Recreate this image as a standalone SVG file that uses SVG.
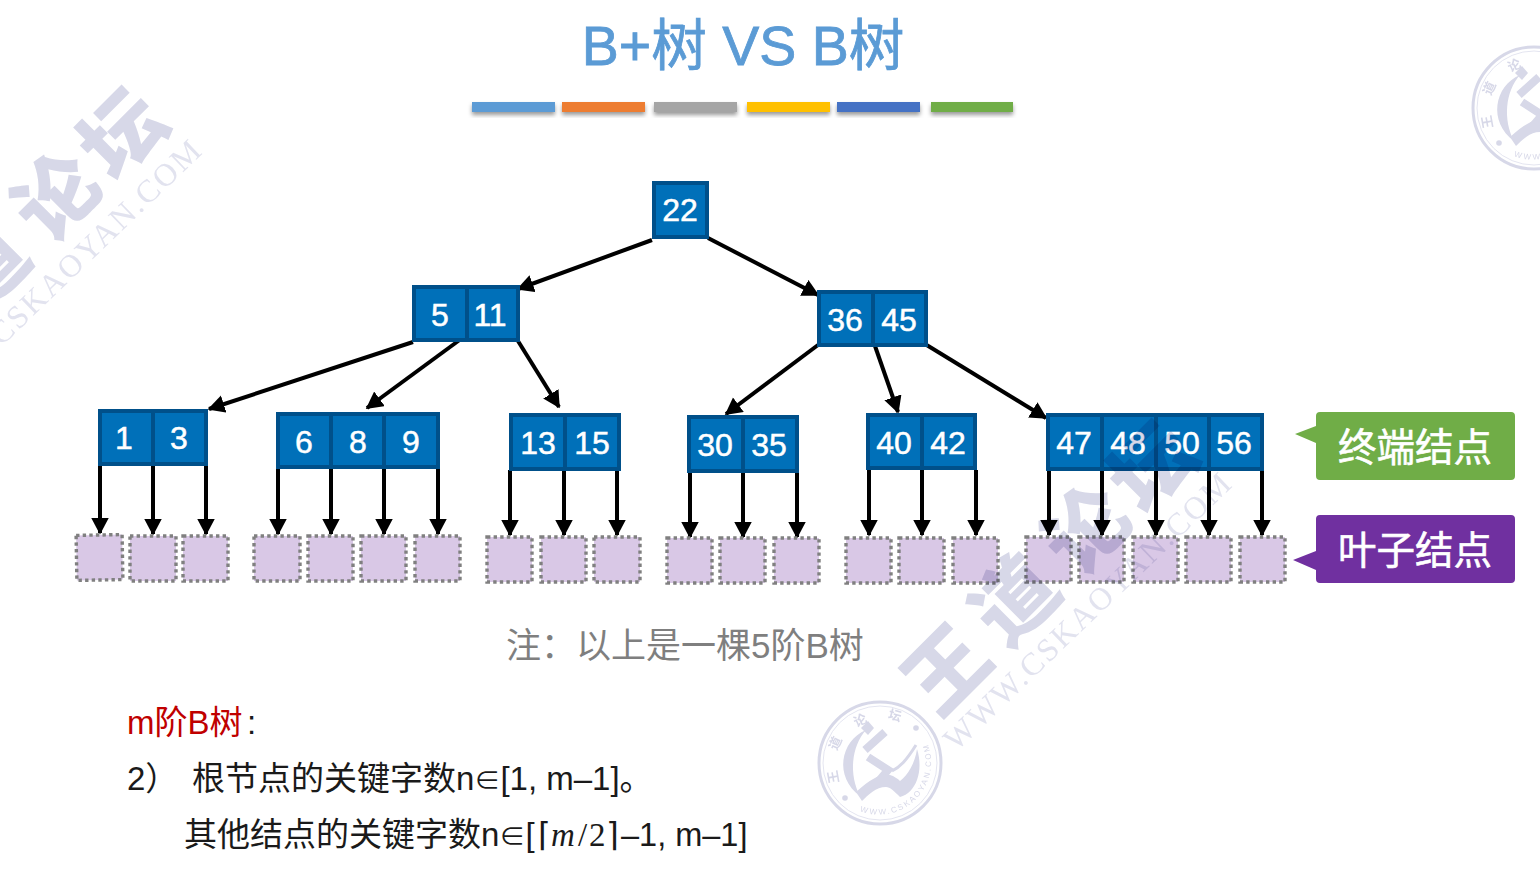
<svg xmlns="http://www.w3.org/2000/svg" xmlns:xlink="http://www.w3.org/1999/xlink" width="1540" height="880" viewBox="0 0 1540 880">
<style>
text{font-family:"Liberation Sans","Noto Sans CJK SC",sans-serif}
.k rect{fill:#0070b9;stroke:#00508a;stroke-width:4}
.k text{fill:#fff;font-size:32px;text-anchor:middle;stroke:#fff;stroke-width:.5}
.leaf rect{fill:#d9c8e6;stroke:#808080;stroke-width:3.4;stroke-dasharray:3.4 3.2}
.conn line{stroke:#000;stroke-width:4;marker-end:url(#ah)}
.body{font-size:33px;fill:#1a1a1a}
.tag{font-size:38.5px;fill:#fff;text-anchor:middle;font-family:"Noto Sans CJK SC",sans-serif;stroke:#fff;stroke-width:.6}
.wm{fill:#d7d8e8;mix-blend-mode:multiply}
.wmt{font-size:82px;font-weight:900;text-anchor:middle;font-family:"Noto Sans CJK SC",sans-serif}
.wmu{font-size:32px;font-family:"Liberation Serif",serif;letter-spacing:2.2px;fill:#e2e3ef}
.sl{font-size:13px;font-weight:700;text-anchor:middle;font-family:"Noto Sans CJK SC",sans-serif}
.m{font-family:"Liberation Serif",serif}
.b{font-family:"DejaVu Sans",sans-serif;font-weight:200}
</style>
<defs>
<marker id="ah" markerUnits="userSpaceOnUse" markerWidth="19" markerHeight="19" refX="15.500" refY="9" orient="auto"><path d="M0 0L17 9L0 18Z" fill="#000"/></marker>
<filter id="sh" x="-5%" y="-30%" width="110%" height="190%"><feDropShadow dx="0" dy="3" stdDeviation="2" flood-color="#000" flood-opacity=".4"/></filter>
<g id="seal">
<circle r="61" fill="none" stroke="#d7d8e8" stroke-width="3"/>
<circle r="57" fill="none" stroke="#e4e5f0" stroke-width="1"/>
<path d="M-14-33C-40-22-46 14-20 33C-31 12-29-16-14-33Z" fill="#d7d8e8"/>
<path d="M-12-42L-6-35L-12-28L-19-35Z" fill="#d7d8e8"/>
<path d="M-15-13L5-31M-12-6L8 7L-3 20" fill="none" stroke="#d7d8e8" stroke-width="8"/>
<path d="M12 8C20 4 26-2 36-18" fill="none" stroke="#d7d8e8" stroke-width="3"/>
<path d="M-24 29C-8 15 2 10 10 12C14 13 18 16 20 18C28 12 35 0 37-14C44 8 36 30 20 34C14 28 10 24 6 24C-4 24-12 32-18 38Z" fill="#d7d8e8"/>
<circle cx="36" cy="-35" r="2.800" fill="#d7d8e8"/><circle cx="-35" cy="35" r="2.800" fill="#d7d8e8"/>
<g fill="#d7d8e8">
<text class="sl" transform="translate(-47,14) rotate(-100) translate(0,5)">王</text>
<text class="sl" transform="translate(-45,-20) rotate(-65) translate(0,5)">道</text>
<text class="sl" transform="translate(-20,-43) rotate(-25) translate(0,5)">论</text>
<text class="sl" transform="translate(15,-48) rotate(15) translate(0,5)">坛</text>
</g>
<path id="sa" d="M-20 48A52 52 0 0 0 48-18" fill="none"/>
<text font-size="8" fill="#d7d8e8" font-family="Liberation Serif,serif" letter-spacing="2"><textPath xlink:href="#sa" href="#sa">WWW.CSKAOYAN.COM</textPath></text>
</g>
</defs>
<rect width="1540" height="880" fill="#fff"/>
<text id="title" x="743" y="65" font-size="55.500" fill="#5b9bd5" stroke="#5b9bd5" stroke-width=".8" text-anchor="middle">B+树 VS B树</text>
<g id="bars" filter="url(#sh)">
<rect x="472" y="102" width="83" height="10" fill="#5b9bd5"/>
<rect x="562" y="102" width="83" height="10" fill="#ed7d31"/>
<rect x="654" y="102" width="83" height="10" fill="#a5a5a5"/>
<rect x="747" y="102" width="83" height="10" fill="#ffc000"/>
<rect x="837" y="102" width="83" height="10" fill="#4472c4"/>
<rect x="931" y="102" width="82" height="10" fill="#70ad47"/>
</g>
<g id="connectors" class="conn">
<line x1="652" y1="240" x2="518" y2="289"/>
<line x1="708" y1="238" x2="818" y2="295"/>
<line x1="413" y1="342" x2="209" y2="409"/>
<line x1="465" y1="336" x2="367" y2="408"/>
<line x1="518" y1="341" x2="559" y2="407"/>
<line x1="818" y1="345" x2="726" y2="414"/>
<line x1="875" y1="346" x2="898" y2="412"/>
<line x1="925" y1="344" x2="1046" y2="418"/>
<line x1="100" y1="466" x2="100" y2="533"/><line x1="153" y1="466" x2="153" y2="534"/><line x1="206" y1="466" x2="206" y2="534"/>
<line x1="278" y1="468" x2="278" y2="534"/><line x1="331" y1="468" x2="331" y2="534"/><line x1="384" y1="468" x2="384" y2="534"/><line x1="438" y1="468" x2="438" y2="534"/>
<line x1="510" y1="470" x2="510" y2="535"/><line x1="564" y1="470" x2="564" y2="535"/><line x1="617" y1="470" x2="617" y2="535"/>
<line x1="690" y1="472" x2="690" y2="537"/><line x1="743" y1="472" x2="743" y2="537"/><line x1="797" y1="472" x2="797" y2="537"/>
<line x1="869" y1="470" x2="869" y2="535"/><line x1="922" y1="470" x2="922" y2="535"/><line x1="976" y1="470" x2="976" y2="535"/>
<line x1="1049" y1="470" x2="1049" y2="535"/><line x1="1102" y1="470" x2="1102" y2="535"/><line x1="1156" y1="470" x2="1156" y2="535"/><line x1="1209" y1="470" x2="1209" y2="535"/><line x1="1262" y1="470" x2="1262" y2="535"/>
</g>
<g id="n22" class="k"><rect x="654" y="183" width="53" height="54"/><text x="680" y="221">22</text></g>
<g id="n5-11" class="k"><rect x="414" y="287" width="53" height="53"/><rect x="467" y="287" width="51" height="53"/><text x="440" y="326">5</text><text x="490" y="326">11</text></g>
<g id="n36-45" class="k"><rect x="819" y="292" width="54" height="53"/><rect x="873" y="292" width="53" height="53"/><text x="845" y="331">36</text><text x="899" y="331">45</text></g>
<g id="n1-3" class="k"><rect x="100" y="411" width="53" height="53"/><rect x="153" y="411" width="53" height="53"/><text x="124" y="449">1</text><text x="179" y="449">3</text></g>
<g id="n6-8-9" class="k"><rect x="278" y="414" width="53" height="53"/><rect x="331" y="414" width="53" height="53"/><rect x="384" y="414" width="54" height="53"/><text x="304" y="453">6</text><text x="358" y="453">8</text><text x="411" y="453">9</text></g>
<g id="n13-15" class="k"><rect x="511" y="415" width="54" height="54"/><rect x="565" y="415" width="54" height="54"/><text x="538" y="454">13</text><text x="592" y="454">15</text></g>
<g id="n30-35" class="k"><rect x="689" y="417" width="54" height="54"/><rect x="743" y="417" width="54" height="54"/><text x="715" y="456">30</text><text x="769" y="456">35</text></g>
<g id="n40-42" class="k"><rect x="868" y="415" width="54" height="53"/><rect x="922" y="415" width="53" height="53"/><text x="894" y="454">40</text><text x="948" y="454">42</text></g>
<g id="n47-56" class="k"><rect x="1048" y="415" width="54" height="54"/><rect x="1102" y="415" width="54" height="54"/><rect x="1156" y="415" width="53" height="54"/><rect x="1209" y="415" width="53" height="54"/><text x="1074" y="454">47</text><text x="1128" y="454">48</text><text x="1182" y="454">50</text><text x="1234" y="454">56</text></g>
<g id="leaves" class="leaf">
<rect x="76.500" y="535" width="46" height="45" transform="rotate(-1 99 558)"/>
<rect x="130" y="536" width="46" height="45"/><rect x="183" y="536" width="45" height="45"/>
<rect x="254" y="536" width="46" height="45"/><rect x="308" y="536" width="45" height="45"/><rect x="361" y="536" width="45" height="45"/><rect x="415" y="536" width="45" height="45"/>
<rect x="487" y="537" width="45" height="45"/><rect x="541" y="537" width="45" height="45"/><rect x="594" y="537" width="46" height="45"/>
<rect x="667" y="538" width="45" height="45"/><rect x="720" y="538" width="45" height="45"/><rect x="774" y="538" width="45" height="45"/>
<rect x="846" y="538" width="45" height="45"/><rect x="899" y="538" width="45" height="45"/><rect x="953" y="538" width="45" height="45"/>
<rect x="1026" y="537" width="45" height="45"/><rect x="1079" y="537" width="45" height="45"/><rect x="1133" y="537" width="45" height="45"/><rect x="1186" y="537" width="45" height="45"/><rect x="1240" y="537" width="45" height="45"/>
</g>
<g id="tag-terminal"><path d="M1320 412H1511a4 4 0 0 1 4 4V476a4 4 0 0 1-4 4H1320a4 4 0 0 1-4-4V443L1295 434L1316 426V416a4 4 0 0 1 4-4Z" fill="#70ad47"/><text class="tag" x="1415" y="461">终端结点</text></g>
<g id="tag-leaf"><path d="M1320 515H1511a4 4 0 0 1 4 4V579a4 4 0 0 1-4 4H1320a4 4 0 0 1-4-4V570L1293 560L1316 551V519a4 4 0 0 1 4-4Z" fill="#7030a0"/><text class="tag" x="1415" y="564">叶子结点</text></g>
<text id="note" x="506" y="658" font-size="35" fill="#7f7f7f">注：以上是一棵5阶B树</text>
<text id="l1" class="body" x="127" y="734"><tspan fill="#c00000">m阶B树</tspan><tspan x="247">:</tspan></text>
<text id="l2" class="body" x="127" y="790" font-size="32.600">2）<tspan x="192">根节点的关键字数n<tspan font-size="26">∈</tspan>[1, m–1]。</tspan></text>
<text id="l3" class="body" x="184" y="846">其他结点的关键字数n<tspan font-size="26">∈</tspan>[<tspan x="538" class="b" font-size="33">⌈</tspan><tspan x="551" class="m" font-style="italic">m</tspan><tspan x="578" class="m">/</tspan><tspan x="589" class="m">2</tspan><tspan x="606" class="b" font-size="33">⌉</tspan><tspan x="621" font-size="32.500">–1, m–1]</tspan></text>
<g id="watermark" class="wm">
<g id="wm2">
<text class="wmt" transform="translate(947,670) rotate(-45) translate(0,29)">王</text>
<text class="wmt" transform="translate(1015,600) rotate(-45) translate(0,29)">道</text>
<text class="wmt" transform="translate(1087,530) rotate(-45) translate(0,29)">论</text>
<text class="wmt" transform="translate(1153,467) rotate(-45) translate(0,29)">坛</text>
<text class="wmu" transform="translate(956,752) rotate(-43.800)">WWW.CSKAOYAN.COM</text>
</g>
<g id="wm1" transform="translate(-1030,-333)">
<text class="wmt" transform="translate(947,670) rotate(-45) translate(0,29)">王</text>
<text class="wmt" transform="translate(1015,600) rotate(-45) translate(0,29)">道</text>
<text class="wmt" transform="translate(1087,530) rotate(-45) translate(0,29)">论</text>
<text class="wmt" transform="translate(1153,467) rotate(-45) translate(0,29)">坛</text>
<text class="wmu" transform="translate(956,752) rotate(-43.800)">WWW.CSKAOYAN.COM</text>
</g>
<use href="#seal" xlink:href="#seal" transform="translate(880,763)"/>
<use href="#seal" xlink:href="#seal" transform="translate(1534,108)"/>
</g>
</svg>
